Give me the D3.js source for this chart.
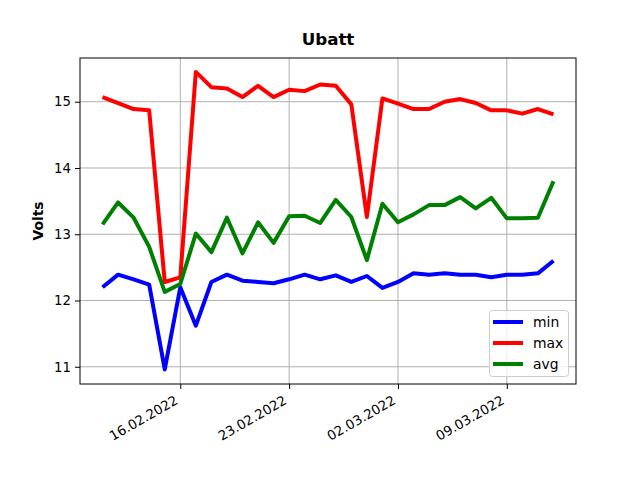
<!DOCTYPE html>
<html><head><meta charset="utf-8">
<script src="https://cdn.jsdelivr.net/npm/d3@7"></script>
<style>body{margin:0;background:#fff}svg{display:block;font-family:"DejaVu Sans",sans-serif}</style>
</head><body><svg id="c" width="640" height="480"></svg>
<script>
const dates = ["2022-02-11","2022-02-12","2022-02-13","2022-02-14","2022-02-15","2022-02-16","2022-02-17","2022-02-18","2022-02-19","2022-02-20","2022-02-21","2022-02-22","2022-02-23","2022-02-24","2022-02-25","2022-02-26","2022-02-27","2022-02-28","2022-03-01","2022-03-02","2022-03-03","2022-03-04","2022-03-05","2022-03-06","2022-03-07","2022-03-08","2022-03-09","2022-03-10","2022-03-11","2022-03-12"];
const minV = [12.20,12.39,12.32,12.24,10.96,12.20,11.62,12.28,12.39,12.30,12.28,12.26,12.32,12.39,12.32,12.38,12.28,12.37,12.19,12.28,12.41,12.39,12.41,12.39,12.39,12.35,12.39,12.39,12.41,12.60];
const maxV = [15.07,14.98,14.89,14.87,12.28,12.35,15.45,15.22,15.20,15.07,15.24,15.07,15.18,15.16,15.26,15.24,14.96,13.26,15.05,14.97,14.89,14.89,15.00,15.04,14.98,14.87,14.87,14.82,14.89,14.81];
const avgV = [13.15,13.48,13.25,12.81,12.13,12.25,13.01,12.73,13.25,12.71,13.18,12.87,13.27,13.28,13.17,13.52,13.26,12.61,13.46,13.18,13.30,13.44,13.44,13.56,13.39,13.55,13.24,13.24,13.25,13.80];
const seriesNames = ["min","max","avg"];
const seriesColors = ["#0000ff","#ff0000","#008000"];
const yTicks = [11,12,13,14,15];
const xTickDates = ["2022-02-16","2022-02-23","2022-03-02","2022-03-09"];
const title = "Ubatt", yLabel = "Volts";

const parse = d3.timeParse("%Y-%m-%d");
const fmt = d3.timeFormat("%d.%m.%Y");
const X = dates.map(parse);
const svg = d3.select("#c");
const L=80,R=576,T=58,B=384;
const day=864e5, pad=29*0.05*day;
const x = d3.scaleTime().domain([new Date(X[0]-pad), new Date(+X[X.length-1]+pad)]).range([L,R]);
const y = d3.scaleLinear().domain([10.74,15.66]).range([B,T]);

// grid
svg.append("g").selectAll("line").data(yTicks).join("line")
  .attr("x1",L).attr("x2",R).attr("y1",d=>y(d)).attr("y2",d=>y(d))
  .attr("stroke","#b0b0b0").attr("stroke-width",1);
svg.append("g").selectAll("line").data(xTickDates.map(parse)).join("line")
  .attr("y1",T).attr("y2",B).attr("x1",d=>x(d)).attr("x2",d=>x(d))
  .attr("stroke","#b0b0b0").attr("stroke-width",1);

const data=[minV,maxV,avgV];
const line=d3.line().x((d,i)=>x(X[i])).y(d=>y(d));
data.forEach((s,k)=>{
  svg.append("path").attr("d",line(s)).attr("fill","none")
    .attr("stroke",seriesColors[k]).attr("stroke-width",4).attr("stroke-linejoin","round");
});

// frame
svg.append("rect").attr("x",L).attr("y",T).attr("width",R-L).attr("height",B-T)
  .attr("fill","none").attr("stroke","#000").attr("stroke-width",1);

// axes
const ya=svg.append("g").attr("transform",`translate(${L},0)`)
  .call(d3.axisLeft(y).tickValues(yTicks).tickSize(5).tickPadding(4).tickFormat(d3.format("d")));
ya.select(".domain").remove();
ya.selectAll("text").attr("font-size",13.3).attr("fill","#000").attr("font-family","DejaVu Sans");
const xa=svg.append("g").attr("transform",`translate(0,${B})`)
  .call(d3.axisBottom(x).tickValues(xTickDates.map(parse)).tickSize(5).tickFormat(fmt));
xa.select(".domain").remove();
xa.selectAll("text").attr("font-size",13.3).attr("fill","#000").attr("font-family","DejaVu Sans")
  .attr("text-anchor","end").attr("dy",0).attr("y",0)
  .attr("transform","translate(-2,19) rotate(-30)");

svg.append("text").attr("x",(L+R)/2).attr("y",45).attr("text-anchor","middle")
  .attr("font-size",16.7).attr("font-weight","bold").text(title);
svg.append("text").attr("transform",`translate(43,${(T+B)/2}) rotate(-90)`)
  .attr("text-anchor","middle").attr("font-size",13.9).attr("font-weight","bold").text(yLabel);

// legend
const lg=svg.append("g");
lg.append("rect").attr("x",489.5).attr("y",310.5).attr("width",79).attr("height",66).attr("rx",3)
  .attr("fill","#fff").attr("fill-opacity",0.8).attr("stroke","#cccccc");
seriesNames.forEach((n,i)=>{
  const yy=322+i*21;
  lg.append("line").attr("x1",493).attr("x2",523).attr("y1",yy).attr("y2",yy)
    .attr("stroke",seriesColors[i]).attr("stroke-width",4);
  lg.append("text").attr("x",533).attr("y",yy+5).attr("font-size",13.9).text(n);
});
</script></body></html>
